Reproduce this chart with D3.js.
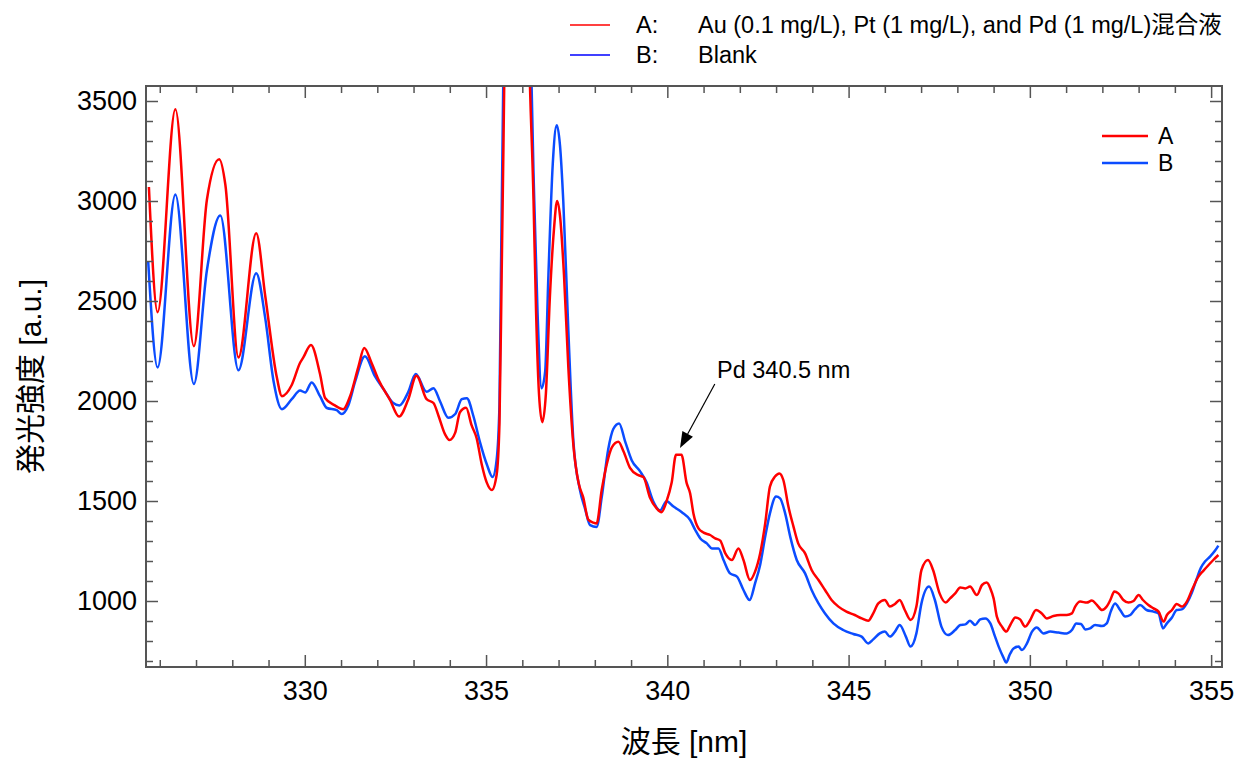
<!DOCTYPE html>
<html>
<head>
<meta charset="utf-8">
<script src="https://cdn.jsdelivr.net/npm/d3@7"></script>
<style>
body { margin: 0; background: #fff; }
text { font-family: "Liberation Sans", Arial, "Noto Sans CJK JP", sans-serif; fill: #000; }
</style>
</head>
<body>
<div id="chart"></div>
<script>
// Spectrum A: Au / Pt / Pd mixed solution
var wavelengthA = [325.70,325.94,326.43,326.94,327.30,327.64,327.81,328.17,328.66,328.91,329.23,329.37,329.64,329.87,329.96,
  330.17,330.42,330.56,330.83,331.06,331.25,331.48,331.64,331.84,332.03,332.35,332.60,332.85,333.08,333.36,333.55,333.69,333.87,333.99,
  334.15,334.28,334.45,334.60,334.74,334.88,335.02,335.16,335.29,335.37,335.43,335.48,335.55,335.90,336.16,336.31,336.38,336.46,336.55,
  336.65,336.76,336.87,336.96,337.04,337.15,337.27,337.41,337.55,337.68,337.82,337.96,338.05,338.19,338.33,338.47,338.65,338.79,338.97,
  339.20,339.34,339.52,339.71,339.84,339.98,340.12,340.24,340.39,340.53,340.63,340.72,340.86,341.00,341.18,341.32,341.46,341.60,341.78,
  341.96,342.10,342.28,342.42,342.56,342.70,342.83,342.97,343.09,343.20,343.34,343.48,343.61,343.80,343.98,344.17,344.35,344.53,344.72,
  344.94,345.17,345.36,345.54,345.68,345.82,346.00,346.14,346.28,346.41,346.55,346.71,346.87,347.01,347.19,347.33,347.51,347.68,347.80,
  347.94,348.08,348.22,348.35,348.54,348.68,348.81,348.91,349.00,349.09,349.23,349.35,349.46,349.60,349.73,349.87,350.01,350.17,350.33,
  350.47,350.65,350.84,351.02,351.16,351.25,351.39,351.57,351.71,351.85,351.99,352.12,352.22,352.33,352.44,352.58,352.72,352.86,353.00,
  353.12,353.27,353.41,353.55,353.69,353.78,353.92,354.05,354.19,354.33,354.47,354.65,354.79,354.93,355.06,355.20];
var intensityA = [3070,2444,3459,2274,3006,3209,3080,2218,2839,2524,2117,2024,2080,2191,2218,
  2280,2135,2015,1978,1959,2024,2172,2265,2191,2107,2006,1922,2006,2126,2009,1990,1925,1833,1805,
  1842,1944,1966,1879,1814,1684,1592,1555,1629,1888,2629,3277,4300,9000,4000,3000,2444,2036,1894,
  2036,2518,2851,3000,2925,2629,2166,1777,1592,1518,1407,1392,1388,1555,1684,1768,1796,1749,1666,
  1629,1620,1518,1462,1444,1499,1592,1731,1731,1592,1538,1438,1363,1342,1330,1313,1302,1238,1205,
  1263,1205,1105,1147,1238,1388,1572,1622,1638,1605,1472,1372,1288,1238,1155,1105,1055,1005,972,
  947,930,913,901,938,988,1005,972,985,1005,955,905,972,1155,1205,1155,1038,992,1013,
  1038,1068,1063,1072,1030,1080,1092,1063,1013,922,872,847,880,918,908,872,905,955,938,
  913,925,930,930,938,972,997,992,1002,980,955,972,1005,1047,1038,1005,992,1000,1030,
  1005,980,963,947,897,930,955,985,972,997,1055,1122,1152,1180,1205,1230];

// Spectrum B: blank
var wavelengthB = [325.68,325.94,326.43,326.94,327.30,327.67,328.17,328.66,328.91,329.14,329.37,329.64,329.87,330.01,
  330.19,330.42,330.61,330.88,331.02,331.20,331.39,331.66,331.93,332.20,332.43,332.61,332.85,333.06,333.36,333.55,333.73,333.96,
  334.15,334.33,334.47,334.65,334.83,335.02,335.18,335.29,335.37,335.41,335.46,335.52,335.88,336.18,336.33,336.42,336.53,336.63,
  336.72,336.84,336.95,337.04,337.13,337.27,337.41,337.59,337.73,337.87,338.05,338.19,338.37,338.51,338.67,338.84,339.02,339.25,
  339.43,339.61,339.80,339.98,340.17,340.40,340.63,340.77,340.91,341.09,341.23,341.41,341.55,341.73,341.92,342.10,342.27,342.42,
  342.56,342.70,342.83,343.00,343.11,343.25,343.39,343.57,343.80,343.98,344.17,344.35,344.58,344.85,345.13,345.36,345.54,345.68,
  345.86,346.00,346.14,346.28,346.41,346.58,346.71,346.87,347.01,347.22,347.38,347.56,347.74,347.94,348.08,348.22,348.35,348.49,
  348.63,348.77,348.91,349.04,349.14,349.26,349.35,349.44,349.55,349.69,349.78,349.92,350.06,350.19,350.38,350.56,350.79,351.02,
  351.16,351.28,351.41,351.53,351.66,351.80,351.99,352.12,352.23,352.35,352.49,352.63,352.77,352.90,353.04,353.22,353.41,353.55,
  353.67,353.78,353.92,354.05,354.19,354.33,354.47,354.60,354.72,354.83,354.97,355.11,355.20];
var intensityB = [2700,2168,3033,2085,2654,2928,2154,2639,2413,2098,1959,2009,2052,2043,
  2093,2024,1965,1954,1935,1978,2098,2224,2126,2052,1991,1978,2043,2135,2046,2064,1999,1916,
  1935,2009,2014,1925,1796,1684,1620,1703,1981,2629,3370,4300,9500,4200,3000,2444,2064,2147,
  2629,3185,3379,3277,3000,2351,1796,1555,1462,1379,1370,1518,1759,1860,1888,1796,1703,1648,
  1592,1499,1453,1499,1472,1444,1405,1355,1313,1288,1263,1263,1205,1138,1122,1055,1005,1088,
  1180,1322,1438,1522,1513,1438,1322,1205,1138,1055,988,938,888,855,835,822,788,808,
  838,847,822,847,880,822,772,838,988,1072,1005,872,830,855,880,883,901,880,
  908,913,888,822,772,722,692,730,763,772,755,788,847,868,838,847,842,838,
  855,888,885,858,863,880,875,888,947,988,955,922,930,958,980,955,947,938,
  863,888,918,955,958,988,1042,1110,1167,1197,1222,1252,1277];

var xMajorTicks = [330, 335, 340, 345, 350, 355];
var yMajorTicks = [1000, 1500, 2000, 2500, 3000, 3500];
var seriesNames = ["A", "B"];
var legendLabels = ["Au (0.1 mg/L), Pt (1 mg/L), and Pd (1 mg/L)混合液", "Blank"];

var width = 1237, height = 758;
var plot = { left: 146, right: 1222, top: 86, bottom: 667 };
var redColor = "#ff0000", blueColor = "#0b4cff";
var axisColor = "#555";

var svg = d3.select("#chart").append("svg")
    .attr("width", width)
    .attr("height", height);

var x = d3.scaleLinear().domain([325.62, 355.3]).range([plot.left, plot.right]);
var y = d3.scaleLinear().domain([670, 3575]).range([plot.bottom, plot.top]);

var xMinor = d3.range(326, 356, 1).filter(function(d) { return xMajorTicks.indexOf(d) < 0; });
var yMinor = d3.range(700, 3576, 100).filter(function(d) { return yMajorTicks.indexOf(d) < 0; });

svg.append("clipPath").attr("id", "clip")
    .append("rect")
    .attr("x", plot.left).attr("y", plot.top)
    .attr("width", plot.right - plot.left).attr("height", plot.bottom - plot.top);

// Lines
var line = d3.line()
    .curve(d3.curveMonotoneX)
    .x(function(d) { return x(d[0]); })
    .y(function(d) { return y(d[1]); });

var dataA = wavelengthA.map(function(w, i) { return [w, intensityA[i]]; });
var dataB = wavelengthB.map(function(w, i) { return [w, intensityB[i]]; });

var lines = svg.append("g").attr("clip-path", "url(#clip)");
lines.append("path").datum(dataB)
    .attr("d", line).attr("fill", "none")
    .attr("stroke", blueColor).attr("stroke-width", 2.5)
    .attr("stroke-linejoin", "round");
lines.append("path").datum(dataA)
    .attr("d", line).attr("fill", "none")
    .attr("stroke", redColor).attr("stroke-width", 2.5)
    .attr("stroke-linejoin", "round");

// Axes (ticks point inward)
function styleAxis(g) {
    g.select(".domain").remove();
    g.selectAll(".tick line").attr("stroke", axisColor).attr("stroke-width", 1.5);
    g.selectAll(".tick text").attr("font-size", "27px").attr("fill", "#000")
        .attr("font-family", "Liberation Sans, Arial, sans-serif");
}

svg.append("g").attr("transform", "translate(0," + plot.bottom + ")")
    .call(d3.axisBottom(x).tickValues(xMajorTicks).tickSizeInner(-12).tickSizeOuter(0)
        .tickPadding(14).tickFormat(d3.format("d")))
    .call(styleAxis);
svg.append("g").attr("transform", "translate(0," + plot.bottom + ")")
    .call(d3.axisBottom(x).tickValues(xMinor).tickSizeInner(-7).tickSizeOuter(0).tickFormat(""))
    .call(styleAxis);
svg.append("g").attr("transform", "translate(0," + plot.top + ")")
    .call(d3.axisTop(x).tickValues(xMajorTicks).tickSizeInner(-12).tickSizeOuter(0).tickFormat(""))
    .call(styleAxis);
svg.append("g").attr("transform", "translate(0," + plot.top + ")")
    .call(d3.axisTop(x).tickValues(xMinor).tickSizeInner(-7).tickSizeOuter(0).tickFormat(""))
    .call(styleAxis);

svg.append("g").attr("transform", "translate(" + plot.left + ",0)")
    .call(d3.axisLeft(y).tickValues(yMajorTicks).tickSizeInner(-12).tickSizeOuter(0)
        .tickPadding(9).tickFormat(d3.format("d")))
    .call(styleAxis);
svg.append("g").attr("transform", "translate(" + plot.left + ",0)")
    .call(d3.axisLeft(y).tickValues(yMinor).tickSizeInner(-7).tickSizeOuter(0).tickFormat(""))
    .call(styleAxis);
svg.append("g").attr("transform", "translate(" + plot.right + ",0)")
    .call(d3.axisRight(y).tickValues(yMajorTicks).tickSizeInner(-12).tickSizeOuter(0).tickFormat(""))
    .call(styleAxis);
svg.append("g").attr("transform", "translate(" + plot.right + ",0)")
    .call(d3.axisRight(y).tickValues(yMinor).tickSizeInner(-7).tickSizeOuter(0).tickFormat(""))
    .call(styleAxis);

// Frame
svg.append("rect")
    .attr("x", plot.left).attr("y", plot.top)
    .attr("width", plot.right - plot.left).attr("height", plot.bottom - plot.top)
    .attr("fill", "none").attr("stroke", axisColor).attr("stroke-width", 2);

// Axis titles
svg.append("text")
    .attr("x", (plot.left + plot.right) / 2).attr("y", 741)
    .attr("text-anchor", "middle").attr("dominant-baseline", "central")
    .attr("font-size", "30px")
    .text("波長 [nm]");
svg.append("text")
    .attr("transform", "translate(30," + ((plot.top + plot.bottom) / 2) + ") rotate(-90)")
    .attr("text-anchor", "middle").attr("dominant-baseline", "central")
    .attr("font-size", "30px")
    .text("発光強度 [a.u.]");

// Top legend
var topLegend = svg.append("g");
["#ff0000", "#0000ff"].forEach(function(c, i) {
    var yy = 25 + i * 30;
    topLegend.append("line").attr("x1", 570).attr("x2", 610).attr("y1", yy).attr("y2", yy)
        .attr("stroke", c).attr("stroke-width", 1.5);
    topLegend.append("text").attr("x", 636).attr("y", yy).attr("dominant-baseline", "central")
        .attr("font-size", "23.5px").text(seriesNames[i] + ":");
    topLegend.append("text").attr("x", 698).attr("y", yy).attr("dominant-baseline", "central")
        .attr("font-size", "23.5px").text(legendLabels[i]);
});

// Inner legend
var inner = svg.append("g");
[redColor, blueColor].forEach(function(c, i) {
    var yy = 136 + i * 27;
    inner.append("line").attr("x1", 1102).attr("x2", 1148).attr("y1", yy).attr("y2", yy)
        .attr("stroke", c).attr("stroke-width", 2.5);
    inner.append("text").attr("x", 1158).attr("y", yy).attr("dominant-baseline", "central")
        .attr("font-size", "23px").text(seriesNames[i]);
});

// Annotation: Pd 340.5 nm
var tip = [x(340.35), y(1765)];
var tail = [x(341.31), y(2085)];
var ang = Math.atan2(tip[1] - tail[1], tip[0] - tail[0]);
var headLen = 16, headW = 6;
var base = [tip[0] - headLen * Math.cos(ang), tip[1] - headLen * Math.sin(ang)];
svg.append("line")
    .attr("x1", tail[0]).attr("y1", tail[1]).attr("x2", base[0]).attr("y2", base[1])
    .attr("stroke", "#000").attr("stroke-width", 1.2);
svg.append("polygon")
    .attr("points", [
        tip,
        [base[0] + headW * Math.sin(ang), base[1] - headW * Math.cos(ang)],
        [base[0] - headW * Math.sin(ang), base[1] + headW * Math.cos(ang)]
    ].map(function(p) { return p.join(","); }).join(" "))
    .attr("fill", "#000");
svg.append("text")
    .attr("x", 717).attr("y", 370).attr("dominant-baseline", "central")
    .attr("font-size", "23.5px")
    .text("Pd 340.5 nm");
</script>
</body>
</html>
